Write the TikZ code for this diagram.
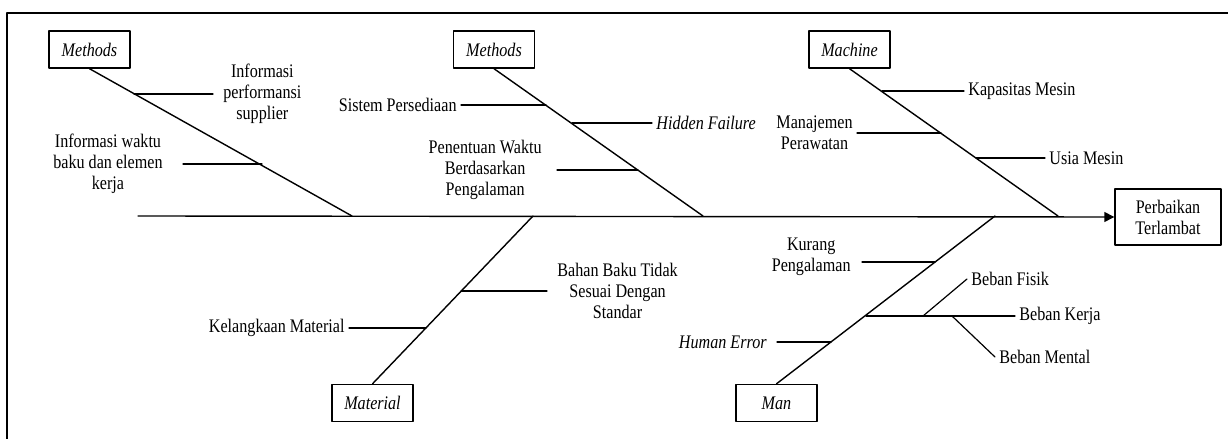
\documentclass[tikz,border=0pt]{standalone}
\usepackage{fontspec}
\setmainfont{Liberation Serif}[FakeStretch=0.84]
\usetikzlibrary{arrows.meta}

\tikzset{
    cat/.style={draw, line width=0.7pt, minimum width=40.5pt, minimum height=18.5pt, inner sep=0pt, font=\fontsize{9.6}{10.5}\selectfont\itshape},
    lbl/.style={inner sep=2pt, align=center},
    bone/.style={line width=0.7pt},
    twig/.style={line width=0.6pt},
}

\begin{document}
\begin{tikzpicture}[x=0.5pt,y=-0.5pt, font=\fontsize{9.6}{10.5}\selectfont, line join=round, line cap=round]
        \useasboundingbox (0,0) rectangle (1228,439);
        \draw[line width=1.1pt] (7,439) -- (7,13) -- (1228,13);

        % head and category boxes
        \node[draw, line width=0.7pt, minimum width=53pt, minimum height=28pt, inner sep=0pt, align=center] (eff) at (1168,217) {Perbaikan\\Terlambat};
        \node[cat] (meth1) at (89.5,49.5) {Methods};
        \node[cat] (meth2) at (494,49.5) {Methods};
        \node[cat] (mach) at (849.5,49.5) {Machine};
        \node[cat] (mat) at (372.5,403) {Material};
        \node[cat] (man) at (776.5,403) {Man};

        % spine and main bones
        \coordinate (tail) at (138,216);
        \coordinate (j1) at (352,216);
        \coordinate (j2) at (703,216);
        \coordinate (j3) at (1058,216);
        \coordinate (j4) at (533,216);
        \coordinate (j5) at (995,216);
        \draw[bone,-{Triangle[length=5pt,width=5pt]}] (tail) -- (eff.west);
        \draw[bone] (meth1.south) -- (j1);
        \draw[bone] (meth2.south) -- (j2);
        \draw[bone] (mach.south) -- (j3);
        \draw[bone] (mat.north) -- (j4);
        \draw[bone] (man.north) -- (j5);

        % Methods (left)
        \coordinate (a1) at (134,94);
        \coordinate (a2) at (262,164);
        \node[lbl, anchor=west] (ips) at (219,94) {Informasi\\performansi\\supplier};
        \node[lbl, anchor=east] (iw) at (167,164) {Informasi waktu\\baku dan elemen\\kerja};
        \draw[twig, shorten >=3pt] (a1) -- (ips.west);
        \draw[twig, shorten >=8pt] (a2) -- (iw.east);

        % Methods (middle)
        \coordinate (b1) at (546,105);
        \coordinate (b2) at (572,123);
        \coordinate (b3) at (638,170);
        \node[lbl, anchor=east] (sp) at (461,105) {Sistem Persediaan};
        \node[lbl, anchor=west, font=\fontsize{9.6}{10.5}\selectfont\itshape] (hf) at (652,123) {Hidden Failure};
        \node[lbl, anchor=east] (pwb) at (546,170) {Penentuan Waktu\\Berdasarkan\\Pengalaman};
        \draw[twig] (b1) -- (sp.east);
        \draw[twig] (b2) -- (hf.west);
        \draw[twig, shorten >=5.5pt] (b3) -- (pwb.east);

        % Machine
        \coordinate (c1) at (882,91);
        \coordinate (c2) at (941,133);
        \coordinate (c3) at (976,158);
        \node[lbl, anchor=west] (km) at (964,91) {Kapasitas Mesin};
        \node[lbl, anchor=east] (mp) at (857,133) {Manajemen\\Perawatan};
        \node[lbl, anchor=west] (um) at (1045,158) {Usia Mesin};
        \draw[twig] (c1) -- (km.west);
        \draw[twig] (c2) -- (mp.east);
        \draw[twig] (c3) -- (um.west);

        % Material
        \coordinate (d1) at (461,291);
        \coordinate (d2) at (426,328);
        \node[lbl, anchor=west] (bbt) at (553,291) {Bahan Baku Tidak\\Sesuai Dengan\\Standar};
        \node[lbl, anchor=east] (kl) at (349,328) {Kelangkaan Material};
        \draw[twig, shorten >=3pt] (d1) -- (bbt.west);
        \draw[twig] (d2) -- (kl.east);

        % Man
        \coordinate (e1) at (935,262);
        \coordinate (e2) at (866,316);
        \coordinate (e3) at (831,342);
        \coordinate (e4) at (923,316);
        \coordinate (e5) at (952,316);
        \node[lbl, anchor=east] (kp) at (855,257) {Kurang\\Pengalaman};
        \node[lbl, anchor=east, font=\fontsize{9.6}{10.5}\selectfont\itshape] (he) at (771,342) {Human Error};
        \node[lbl, anchor=west] (bk) at (1015,316) {Beban Kerja};
        \node[lbl, anchor=west] (bf) at (967,279) {Beban Fisik};
        \node[lbl, anchor=west] (bm) at (995,357) {Beban Mental};
        \draw[twig, shorten >=3.5pt] (e1) -- (kp.east |- e1);
        \draw[twig, shorten >=3pt] (e3) -- (he.east);
        \draw[twig] (e2) -- (bk.west);
        \draw[twig] (e4) -- (bf.west);
        \draw[twig] (e5) -- (bm.west);
\end{tikzpicture}
\end{document}
